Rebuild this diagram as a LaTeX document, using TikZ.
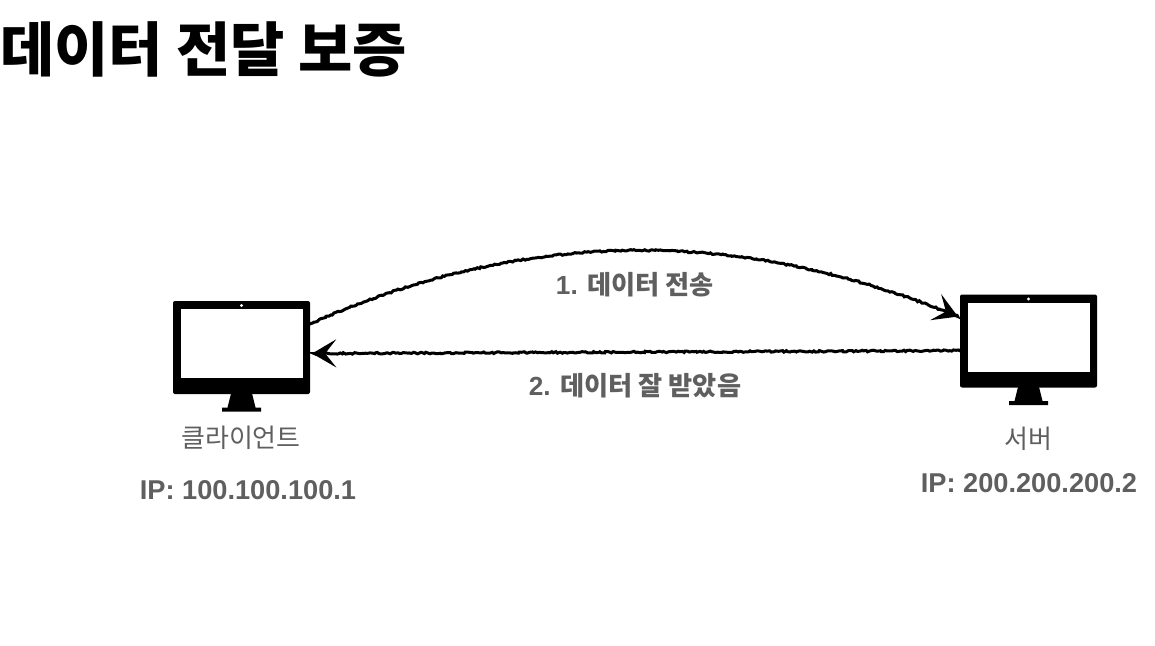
\documentclass[tikz,border=0pt]{standalone}
\usepackage{fontspec}
\setmainfont{Liberation Sans}
\newfontfamily\krfont{Noto Sans CJK KR}
\usetikzlibrary{arrows.meta,decorations.pathmorphing}
\definecolor{labelgray}{HTML}{5F5F5F}
\tikzset{
	monitor/.pic={
		\node [fill=black,rounded corners=2pt,inner sep=0pt,minimum width=137pt,minimum height=93pt] (-body) at (0,0) {};
		\fill [white] (-60.5,-38.5) rectangle (61,30.5);
		\fill [white] (0,-42) circle (1.6pt);
		\fill [black] (-10.5,46) -- (10.5,46) -- (14,60) -- (19.5,60) -- (19.5,64) -- (-19.5,64) -- (-19.5,60) -- (-14,60) -- cycle;
	},
	sketch/.style={line width=3pt,shorten <=2pt,shorten >=2pt,-{Stealth[length=24pt,width=28pt,inset=11pt]},decorate,decoration={random steps,segment length=2pt,amplitude=0.8pt,post=lineto,post length=4pt}},
	hostname/.style={labelgray,font=\krfont\fontsize{26}{31}\selectfont},
	ipaddr/.style={labelgray,font=\bfseries\fontsize{27.2}{32}\selectfont},
	msg/.style={labelgray,font=\bfseries\fontsize{26.2}{31}\selectfont},
}
\begin{document}
\begin{tikzpicture}[x=1pt,y=-1pt]
	\useasboundingbox (0,0) rectangle (1155,645);

	\node [font=\krfont\bfseries\fontsize{59}{70}\selectfont] (title) at (203.5,49) {데이터 전달 보증};

	\pic (client) at (241.5,347.5) {monitor};
	\pic (server) at (1028.5,341) {monitor};

	\node [hostname] (clientname) at (241,438) {클라이언트};
	\node [ipaddr] (clientip) at (248,490) {IP: 100.100.100.1};
	\node [hostname] (servername) at (1028,439) {서버};
	\node [ipaddr] (serverip) at (1029,483) {IP: 200.200.200.2};

	\node [msg] (send) at (635,285) {1. {\krfont 데이터 전송}};
	\node [msg] (ack) at (635,386) {2. {\krfont 데이터 잘 받았음}};

	\draw [sketch] (client-body.19) .. controls (527,227) and (743,227) .. (server-body.161);
	\draw [sketch] (server-body.188) -- (client-body.-5);
\end{tikzpicture}
\end{document}
